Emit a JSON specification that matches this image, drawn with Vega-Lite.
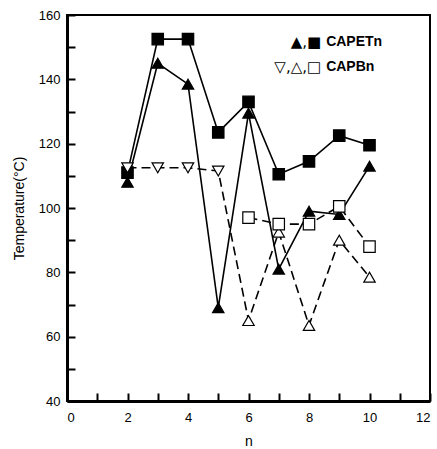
{
  "$schema": "https://vega.github.io/schema/vega-lite/v6.json",
  "width": 363,
  "height": 386,
  "autosize": "none",
  "padding": {"left": 67, "top": 15, "right": 7, "bottom": 48},
  "background": "white",
  "config": {
    "view": {"stroke": "black", "strokeWidth": 2},
    "font": "Liberation Sans"
  },
  "datasets": {
    "leg": [
      {"n": 8.5, "t": 151.5, "symbols": "▲,■", "label": "CAPETn"},
      {"n": 8.5, "t": 143.8, "symbols": "▽,△,□", "label": "CAPBn"}
    ]
  },
  "data": {"values": [
      {"n": 2, "t": 108, "series": "CAPETn tri", "sym": "▲"},
      {"n": 3, "t": 145, "series": "CAPETn tri", "sym": "▲"},
      {"n": 4, "t": 138.5, "series": "CAPETn tri", "sym": "▲"},
      {"n": 5, "t": 69, "series": "CAPETn tri", "sym": "▲"},
      {"n": 6, "t": 129.5, "series": "CAPETn tri", "sym": "▲"},
      {"n": 7, "t": 81, "series": "CAPETn tri", "sym": "▲"},
      {"n": 8, "t": 99, "series": "CAPETn tri", "sym": "▲"},
      {"n": 9, "t": 98, "series": "CAPETn tri", "sym": "▲"},
      {"n": 10, "t": 113, "series": "CAPETn tri", "sym": "▲"},
      {"n": 2, "t": 111, "series": "CAPETn sq", "sym": "■"},
      {"n": 3, "t": 152.5, "series": "CAPETn sq", "sym": "■"},
      {"n": 4, "t": 152.5, "series": "CAPETn sq", "sym": "■"},
      {"n": 5, "t": 123.5, "series": "CAPETn sq", "sym": "■"},
      {"n": 6, "t": 133, "series": "CAPETn sq", "sym": "■"},
      {"n": 7, "t": 110.5, "series": "CAPETn sq", "sym": "■"},
      {"n": 8, "t": 114.5, "series": "CAPETn sq", "sym": "■"},
      {"n": 9, "t": 122.5, "series": "CAPETn sq", "sym": "■"},
      {"n": 10, "t": 119.5, "series": "CAPETn sq", "sym": "■"},
      {"n": 2, "t": 112.5, "series": "CAPBn tri", "sym": "▽"},
      {"n": 3, "t": 112.5, "series": "CAPBn tri", "sym": "▽"},
      {"n": 4, "t": 112.5, "series": "CAPBn tri", "sym": "▽"},
      {"n": 5, "t": 111.5, "series": "CAPBn tri", "sym": "▽"},
      {"n": 6, "t": 65, "series": "CAPBn tri", "sym": "△"},
      {"n": 7, "t": 92.5, "series": "CAPBn tri", "sym": "△"},
      {"n": 8, "t": 63.5, "series": "CAPBn tri", "sym": "△"},
      {"n": 9, "t": 90, "series": "CAPBn tri", "sym": "△"},
      {"n": 10, "t": 78.5, "series": "CAPBn tri", "sym": "△"},
      {"n": 6, "t": 97, "series": "CAPBn sq", "sym": "□"},
      {"n": 7, "t": 95, "series": "CAPBn sq", "sym": "□"},
      {"n": 8, "t": 95, "series": "CAPBn sq", "sym": "□"},
      {"n": 9, "t": 100.5, "series": "CAPBn sq", "sym": "□"},
      {"n": 10, "t": 88, "series": "CAPBn sq", "sym": "□"}
  ]},
  "encoding": {
    "x": {"field": "n", "type": "quantitative", "scale": {"domain": [0, 12], "nice": false},
          "axis": {"values": [0, 1, 2, 3, 4, 5, 6, 7, 8, 9, 10, 11, 12],
                   "labelExpr": "datum.value % 2 === 0 ? datum.label : ''",
                   "tickSize": -8, "tickWidth": 2, "tickColor": "black", "domainColor": "black", "domainWidth": 3,
                   "labelPadding": 18, "labelFontSize": 13, "labelColor": "black",
                   "title": "n", "titlePadding": 10, "titleFontSize": 14, "titleFontWeight": "normal", "titleColor": "black", "grid": false}},
    "y": {"field": "t", "type": "quantitative", "scale": {"domain": [40, 160], "nice": false},
          "axis": {"values": [40, 50, 60, 70, 80, 90, 100, 110, 120, 130, 140, 150, 160],
                   "labelExpr": "datum.value % 20 === 0 ? datum.label : ''",
                   "tickSize": -8, "tickWidth": 2, "tickColor": "black", "domainColor": "black", "domainWidth": 3,
                   "labelPadding": 15, "labelFontSize": 13, "labelColor": "black",
                   "title": "Temperature(°C)", "titlePadding": 12, "titleFontSize": 14, "titleFontWeight": "normal", "titleColor": "black", "grid": false}}
  },
  "layer": [
    {
      "transform": [{"filter": "indexof(datum.series, 'CAPETn') === 0"}],
      "mark": {"type": "line", "color": "black", "strokeWidth": 1.6},
      "encoding": {"detail": {"field": "series"}}
    },
    {
      "transform": [{"filter": "indexof(datum.series, 'CAPBn') === 0"}],
      "mark": {"type": "line", "color": "black", "strokeWidth": 1.6, "strokeDash": [9, 5]},
      "encoding": {"detail": {"field": "series"}}
    },
    {
      "mark": {"type": "point", "filled": true, "stroke": "black", "strokeWidth": 1.2, "opacity": 1, "size": 130},
      "encoding": {
        "shape": {"field": "sym", "type": "nominal", "legend": null,
                  "scale": {"domain": ["▲", "■", "▽", "△", "□"], "range": ["triangle-up", "square", "triangle-down", "triangle-up", "square"]}},
        "fill": {"field": "sym", "type": "nominal", "legend": null,
                 "scale": {"domain": ["▲", "■", "▽", "△", "□"], "range": ["black", "black", "white", "white", "white"]}}
      }
    },
    {
      "data": {"name": "leg"},
      "mark": {"type": "text", "align": "right", "baseline": "middle", "fontSize": 15, "font": "DejaVu Sans", "color": "black", "dx": -3},
      "encoding": {"text": {"field": "symbols"}}
    },
    {
      "data": {"name": "leg"},
      "mark": {"type": "text", "align": "left", "baseline": "middle", "fontSize": 14, "fontWeight": "bold", "font": "Liberation Sans", "color": "black", "dx": 2},
      "encoding": {"text": {"field": "label"}}
    }
  ]
}
